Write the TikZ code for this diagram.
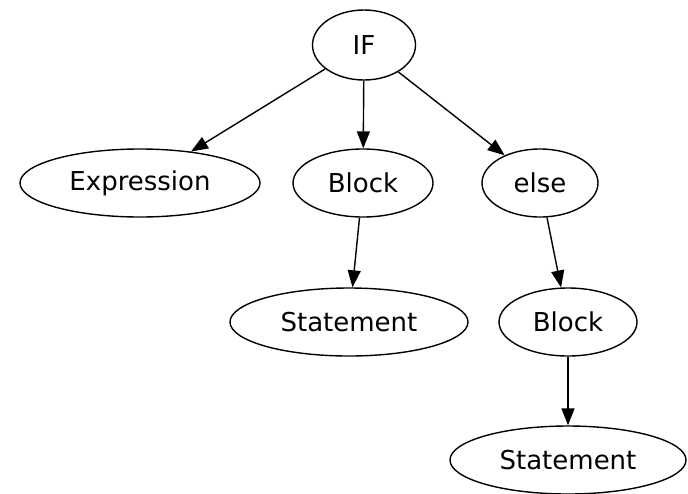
\documentclass[tikz,border=0pt]{standalone}
\usepackage{fontspec}
\setmainfont{DejaVu Sans}
\usetikzlibrary{arrows.meta, shapes.geometric}

\begin{document}
\begin{tikzpicture}[
  x=0.5pt, y=-0.5pt,
  >={Triangle[length=8.5pt, width=6.5pt]},
  every node/.style={font=\fontsize{13}{15}\selectfont},
  tok/.style={
    draw, ellipse, line width=0.7pt,
    inner sep=0pt, minimum height=34pt
  },
  arr/.style={->, line width=0.7pt},
]

%% ── Frame ─────────────────────────────────────────────────────────────────
\useasboundingbox (0,0) rectangle (688,493);

%% ── Root ──────────────────────────────────────────────────────────────────
\node[tok, minimum width=51.5pt, minimum height=35pt] (If) at (364,45) {IF};

%% ── First level ───────────────────────────────────────────────────────────
\node[tok, minimum width=120pt] (Expr)   at (140,183) {Expression};
\node[tok, minimum width=70pt]  (BlockA) at (363,183) {Block};
\node[tok, minimum width=58pt]  (Else)   at (540,183) {else};

%% ── Second level ──────────────────────────────────────────────────────────
\node[tok, minimum width=119pt] (StmtA)  at (349,322) {Statement};
\node[tok, minimum width=69pt]  (BlockB) at (568,322) {Block};

%% ── Third level ───────────────────────────────────────────────────────────
\node[tok, minimum width=118pt] (StmtB)  at (568,460) {Statement};

%% ── Edges ─────────────────────────────────────────────────────────────────
\draw[arr] (If) -- (Expr);
\draw[arr] (If) -- (BlockA);
\draw[arr] (If) -- (Else);
\draw[arr] (BlockA) -- (StmtA);
\draw[arr] (Else) -- (BlockB);
\draw[arr] (BlockB) -- (StmtB);

\end{tikzpicture}
\end{document}
